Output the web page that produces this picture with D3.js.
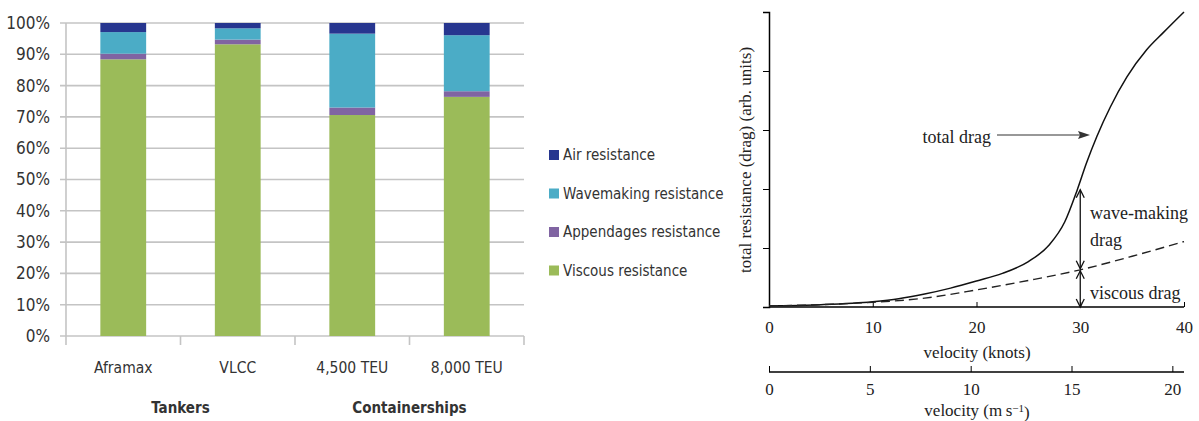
<!DOCTYPE html>
<meta charset="utf-8">
<script src="https://cdn.jsdelivr.net/npm/d3@7"></script>
<style>
body { margin: 0; background: #fff; }
.bar-text { font-family: "Liberation Sans Narrow", "DejaVu Sans Condensed", sans-serif; fill: #333; }
.serif { font-family: "Liberation Serif", "DejaVu Serif", serif; fill: #222; }
</style>
<body>
<script>

// ---- left chart data (share of total resistance, %) ----
var ships = ["Aframax", "VLCC", "4,500 TEU", "8,000 TEU"];
var groups = ["Tankers", "Containerships"];
var viscous = [88.4, 93.2, 70.6, 76.4];
var appendages = [1.8, 1.5, 2.4, 1.8];
var wavemaking = [6.9, 3.6, 23.6, 17.9];
var air = [2.9, 1.7, 3.4, 3.9];
var pctTicks = [0, 10, 20, 30, 40, 50, 60, 70, 80, 90, 100];

// ---- right chart data (knots vs arb. units) ----
var knots = [0, 5, 10, 12.5, 15, 17.5, 20, 22.5, 25, 27, 28.5, 29.7, 30.6, 31.6, 32.9, 34.5, 36.4, 38, 40];
var totalDrag = [0.02, 0.04, 0.09, 0.14, 0.22, 0.32, 0.44, 0.57, 0.77, 1.05, 1.44, 1.98, 2.44, 2.89, 3.39, 3.9, 4.36, 4.65, 5.0];
var viscousKnots = [0, 5, 10, 15, 20, 25, 30, 35, 40];
var viscousDrag = [0.02, 0.04, 0.08, 0.15, 0.29, 0.45, 0.63, 0.86, 1.11];
var knotTicks = [0, 10, 20, 30, 40];
var msTicks = [0, 5, 10, 15, 20];

var svg = d3.select("body").append("svg")
    .attr("width", 1199)
    .attr("height", 421);

// ================= left: stacked bars =================
var colors = {viscous: "#9bbb59", appendages: "#8064a2", wavemaking: "#4bacc6", air: "#27368f"};
var keys = ["viscous", "appendages", "wavemaking", "air"];
var labels = {air: "Air resistance", wavemaking: "Wavemaking resistance",
              appendages: "Appendages resistance", viscous: "Viscous resistance"};

var rows = ships.map(function(s, i) {
  return {ship: s, viscous: viscous[i], appendages: appendages[i], wavemaking: wavemaking[i], air: air[i]};
});

var x = d3.scaleBand().domain(ships).range([66, 524]).paddingInner(0.6).paddingOuter(0.3);
var y = d3.scaleLinear().domain([0, 100]).range([336, 23]);

var left = svg.append("g");

// gridlines + y labels
left.selectAll("line.grid").data(pctTicks).enter().append("line")
    .attr("x1", 60).attr("x2", 524)
    .attr("y1", function(d) { return y(d); })
    .attr("y2", function(d) { return y(d); })
    .attr("stroke", "#c4c4c4").attr("stroke-width", 1.6);

left.selectAll("text.ytick").data(pctTicks).enter().append("text")
    .attr("class", "bar-text")
    .attr("x", 50).attr("y", function(d) { return y(d); })
    .attr("dy", "0.35em")
    .attr("text-anchor", "end")
    .style("font-size", "17px")
    .text(function(d) { return d + "%"; });

left.append("line").attr("x1", 66).attr("x2", 66).attr("y1", 23).attr("y2", 336)
    .attr("stroke", "#c4c4c4").attr("stroke-width", 1.6);

// category ticks
var step = x.step();
var edges = d3.range(ships.length + 1).map(function(i) { return 66 + i * step; });
left.selectAll("line.xt").data(edges).enter().append("line")
    .attr("x1", function(d) { return d; }).attr("x2", function(d) { return d; })
    .attr("y1", 336).attr("y2", 345)
    .attr("stroke", "#c4c4c4").attr("stroke-width", 1.6);

var stack = d3.stack().keys(keys)(rows);
left.selectAll("g.layer").data(stack).enter().append("g")
    .attr("fill", function(d) { return colors[d.key]; })
    .selectAll("rect").data(function(d) { return d; }).enter().append("rect")
    .attr("x", function(d) { return x(d.data.ship); })
    .attr("width", x.bandwidth())
    .attr("y", function(d) { return y(d[1]); })
    .attr("height", function(d) { return y(d[0]) - y(d[1]); });

left.selectAll("text.cat").data(ships).enter().append("text")
    .attr("class", "bar-text")
    .attr("x", function(d) { return x(d) + x.bandwidth() / 2; })
    .attr("y", 368).attr("dy", "0.35em")
    .attr("text-anchor", "middle")
    .style("font-size", "15.5px")
    .text(function(d) { return d; });

left.selectAll("text.grp").data(groups).enter().append("text")
    .attr("class", "bar-text")
    .attr("x", function(d, i) { return 66 + step * (2 * i + 1); })
    .attr("y", 408).attr("dy", "0.35em")
    .attr("text-anchor", "middle")
    .style("font-size", "15px").style("font-weight", "bold")
    .text(function(d) { return d; });

// legend
var legendKeys = ["air", "wavemaking", "appendages", "viscous"];
var leg = left.selectAll("g.leg").data(legendKeys).enter().append("g")
    .attr("transform", function(d, i) { return "translate(549," + (155 + i * 38.5) + ")"; });
leg.append("rect").attr("x", 0).attr("y", -5).attr("width", 10).attr("height", 10)
    .attr("fill", function(d) { return colors[d]; });
leg.append("text").attr("class", "bar-text")
    .attr("x", 14).attr("dy", "0.35em")
    .style("font-size", "15px")
    .text(function(d) { return labels[d]; });

// ================= right: drag vs velocity =================
var kx = d3.scaleLinear().domain([0, 40]).range([769, 1184]);
var msx = d3.scaleLinear().domain([0, 40 / 1.943844]).range([769, 1184]);
var ry = d3.scaleLinear().domain([0, 5]).range([307, 12]);

var right = svg.append("g");

right.append("g")
    .attr("transform", "translate(769,0)")
    .call(d3.axisLeft(ry).ticks(5).tickSize(6).tickFormat(""))
    .call(function(g) {
      g.select(".domain").attr("stroke-width", 1.5);
    });

var knotAxis = right.append("g")
    .attr("transform", "translate(0,307)")
    .call(d3.axisBottom(kx).tickValues(knotTicks).tickSize(-5).tickPadding(14).tickSizeOuter(0));

var msAxis = right.append("g")
    .attr("transform", "translate(0,372)")
    .call(d3.axisBottom(msx).tickValues(msTicks).tickSize(-6).tickPadding(11).tickSizeOuter(0));

[knotAxis, msAxis].forEach(function(a) {
  a.select(".domain").attr("d", "M769,0H1184").attr("stroke-width", 1.5);
  a.selectAll("text").attr("class", "serif").style("font-size", "17px").attr("fill", "#222");
});

right.append("text").attr("class", "serif")
    .attr("x", 977).attr("y", 352).attr("dy", "0.35em")
    .attr("text-anchor", "middle").style("font-size", "17px")
    .text("velocity (knots)");

var msLabel = right.append("text").attr("class", "serif")
    .attr("x", 977).attr("y", 410).attr("dy", "0.35em")
    .attr("text-anchor", "middle").style("font-size", "17px");
msLabel.append("tspan").text("velocity (m\u2009s");
msLabel.append("tspan").attr("dy", "-0.4em").style("font-size", "11px").text("\u22121");
msLabel.append("tspan").attr("dy", "0.4em").text(")");

right.append("text").attr("class", "serif")
    .attr("transform", "translate(745,160) rotate(-90)")
    .attr("dy", "0.35em")
    .attr("text-anchor", "middle").style("font-size", "17px")
    .text("total resistance (drag) (arb. units)");

var line = d3.line().curve(d3.curveMonotoneX);

right.append("path")
    .attr("d", line(knots.map(function(k, i) { return [kx(k), ry(totalDrag[i])]; })))
    .attr("fill", "none").attr("stroke", "#111").attr("stroke-width", 1.5);

right.append("path")
    .attr("d", line(viscousKnots.map(function(k, i) { return [kx(k), ry(viscousDrag[i])]; })))
    .attr("fill", "none").attr("stroke", "#222").attr("stroke-width", 1.4)
    .attr("stroke-dasharray", "9,5");

// double arrows at 30 knots
var ax = kx(30);
var vAt30 = viscousDrag[viscousKnots.indexOf(30)];
var tAt30 = 2.02;
function dblArrow(y1, y2) {
  right.append("line").attr("x1", ax).attr("x2", ax).attr("y1", y1).attr("y2", y2)
      .attr("stroke", "#111").attr("stroke-width", 1.3);
  right.append("path").attr("d", "M" + (ax - 4) + "," + (y1 + 8) + "L" + ax + "," + y1 + "L" + (ax + 4) + "," + (y1 + 8))
      .attr("fill", "none").attr("stroke", "#111").attr("stroke-width", 1.3);
  right.append("path").attr("d", "M" + (ax - 4) + "," + (y2 - 8) + "L" + ax + "," + y2 + "L" + (ax + 4) + "," + (y2 - 8))
      .attr("fill", "none").attr("stroke", "#111").attr("stroke-width", 1.3);
}
dblArrow(ry(tAt30) + 2, ry(vAt30) - 1);
dblArrow(ry(vAt30) + 1, ry(0));

right.append("text").attr("class", "serif").attr("x", 1090).attr("y", 213).attr("dy", "0.35em")
    .style("font-size", "18px").text("wave-making");
right.append("text").attr("class", "serif").attr("x", 1090).attr("y", 240).attr("dy", "0.35em")
    .style("font-size", "18px").text("drag");
right.append("text").attr("class", "serif").attr("x", 1090).attr("y", 293).attr("dy", "0.35em")
    .style("font-size", "18px").text("viscous drag");

// total drag label with arrow
right.append("text").attr("class", "serif").attr("x", 991).attr("y", 137).attr("dy", "0.35em")
    .attr("text-anchor", "end").style("font-size", "18px").text("total drag");
right.append("line").attr("x1", 997).attr("x2", 1084).attr("y1", 135).attr("y2", 135)
    .attr("stroke", "#333").attr("stroke-width", 1.2);
right.append("path").attr("d", "M1090,135L1078,131L1080,135L1078,139Z").attr("fill", "#333");

</script>
</body>
